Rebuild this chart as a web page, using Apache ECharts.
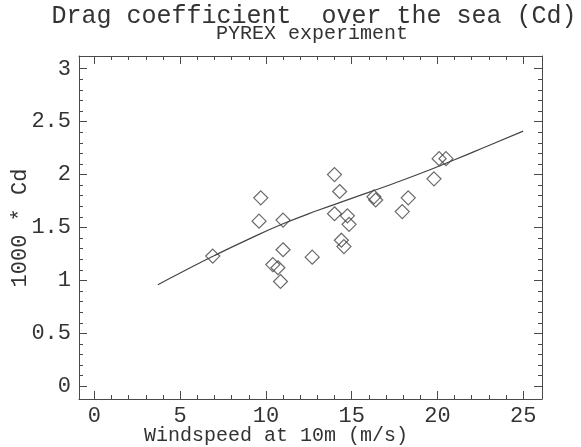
<!DOCTYPE html>
<html>
<head>
<meta charset="utf-8">
<script src="https://cdn.jsdelivr.net/npm/echarts@6/dist/echarts.min.js"></script>
<style>html,body{margin:0;padding:0;background:#fff}#c{width:581px;height:447px}</style>
</head>
<body>
<div id="c"></div>
<script>
// Measured points (windspeed m/s, 1000*Cd)
var windspeed = [6.9, 9.7, 9.6, 11.0, 11.0, 10.4, 10.7, 10.85, 12.7, 14.0, 14.3, 14.0, 14.75, 14.85, 14.4, 14.55, 16.3, 16.4, 18.3, 17.95, 19.8, 20.1, 20.5];
var cd1000    = [1.23, 1.78, 1.56, 1.57, 1.29, 1.15, 1.12, 0.99, 1.22, 2.00, 1.84, 1.63, 1.61, 1.53, 1.38, 1.32, 1.79, 1.76, 1.78, 1.65, 1.96, 2.15, 2.15];
// Fitted curve
var curveX = [3.7, 5, 7, 9, 11, 13, 15, 17, 19, 21, 23, 25];
var curveY = [0.96, 1.07, 1.235, 1.39, 1.535, 1.66, 1.775, 1.89, 2.01, 2.14, 2.275, 2.41];
// Tick labels
var xTickLabels = [0, 5, 10, 15, 20, 25];
var yTickLabels = [0, 0.5, 1, 1.5, 2, 2.5, 3];

var xMinor = [], yMinor = [];
for (var i = 0; i <= 25; i++) xMinor.push(i);
for (var j = 0; j <= 30; j++) yMinor.push(+(j * 0.1).toFixed(1));

var FONT = 'Liberation Mono';
var AX = '#4a4a4a';
var XR = {min: -0.9, max: 26.1};
var YR = {min: -0.12, max: 3.12};

function xAx(pos, major, labels, line) {
  return {
    type: 'value', position: pos, min: XR.min, max: XR.max,
    splitLine: {show: false},
    axisLine: {show: line, onZero: false, lineStyle: {color: AX, width: 1}},
    axisTick: {show: true, inside: true, length: major ? 8 : 4, customValues: major ? xTickLabels : xMinor, lineStyle: {color: AX, width: 1}},
    axisLabel: {show: labels, customValues: xTickLabels, fontFamily: FONT, fontSize: 22, color: '#333', margin: 6}
  };
}
function yAx(pos, major, labels, line) {
  return {
    type: 'value', position: pos, min: YR.min, max: YR.max,
    splitLine: {show: false},
    axisLine: {show: line, onZero: false, lineStyle: {color: AX, width: 1}},
    axisTick: {show: true, inside: true, length: major ? 8 : 4, customValues: major ? yTickLabels : yMinor, lineStyle: {color: AX, width: 1}},
    axisLabel: {show: labels, customValues: yTickLabels, fontFamily: FONT, fontSize: 22, color: '#333', margin: 8}
  };
}

var pts = windspeed.map(function (v, k) { return [v, cd1000[k]]; });
var curve = curveX.map(function (v, k) { return [v, curveY[k]]; });

var chart = echarts.init(document.getElementById('c'), null, {renderer: 'canvas'});
chart.setOption({
  backgroundColor: '#fff',
  animation: false,
  grid: {left: 79, right: 39, top: 56, bottom: 48, containLabel: false, outerBoundsMode: 'none'},
  xAxis: [xAx('bottom', true, true, true), xAx('bottom', false, false, false), xAx('top', true, false, true), xAx('top', false, false, false)],
  yAxis: [yAx('left', true, true, true), yAx('left', false, false, false), yAx('right', true, false, true), yAx('right', false, false, false)],
  graphic: [
    {type: 'text', x: 314, y: 16, style: {text: 'Drag coefficient  over the sea (Cd)', font: '25px "Liberation Mono"', fill: '#333', textAlign: 'center', textVerticalAlign: 'middle'}},
    {type: 'text', x: 312, y: 34, style: {text: 'PYREX experiment', font: '20px "Liberation Mono"', fill: '#333', textAlign: 'center', textVerticalAlign: 'middle'}},
    {type: 'text', x: 276, y: 436, style: {text: 'Windspeed at 10m (m/s)', font: '20px "Liberation Mono"', fill: '#333', textAlign: 'center', textVerticalAlign: 'middle'}},
    {type: 'text', x: 20, y: 228, rotation: Math.PI / 2, style: {text: '1000 * Cd', font: '22px "Liberation Mono"', fill: '#333', textAlign: 'center', textVerticalAlign: 'middle'}}
  ],
  series: [
    {type: 'line', data: curve, smooth: true, showSymbol: false, symbol: 'none', xAxisIndex: 0, yAxisIndex: 0,
     lineStyle: {color: '#444', width: 1.2}},
    {type: 'scatter', data: pts, symbol: 'diamond', symbolSize: 14, xAxisIndex: 0, yAxisIndex: 0,
     itemStyle: {color: 'rgba(0,0,0,0)', borderColor: '#444', borderWidth: 1.2}}
  ]
});
</script>
</body>
</html>
